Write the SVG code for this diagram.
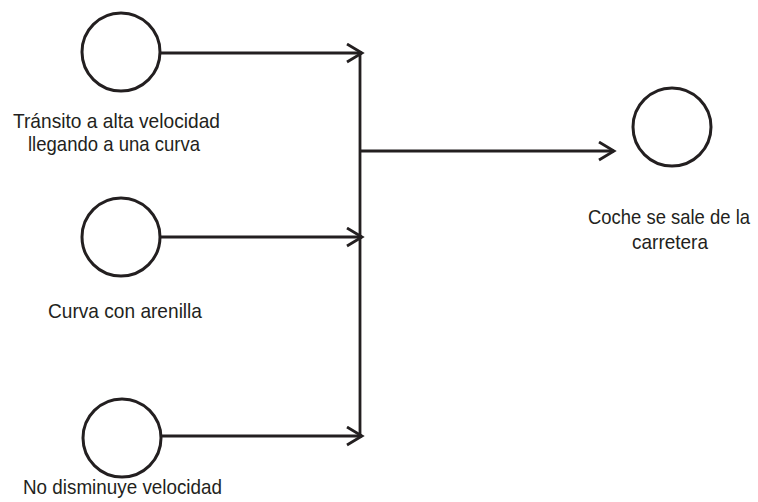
<svg xmlns="http://www.w3.org/2000/svg" width="758" height="502" viewBox="0 0 758 502">
<style>
.n{fill:none;stroke:#231f20;stroke-width:3}
.c{fill:none;stroke:#231f20;stroke-width:2.8}
.t{font-family:"Liberation Sans Narrow","Liberation Sans",Arial,sans-serif;font-size:21px;fill:#231f20;text-anchor:middle}
</style>
<defs>
<marker id="ah" markerWidth="20" markerHeight="22" refX="16" refY="10" orient="auto" markerUnits="userSpaceOnUse">
<path d="M1,1 L16,10 L1,19" fill="none" stroke="#231f20" stroke-width="2.8"/>
</marker>
</defs>
<rect width="758" height="502" fill="#ffffff"/>
<g id="n1">
<circle class="n" cx="121" cy="52" r="39"/>
<text class="t" x="116.5" y="128" textLength="207" lengthAdjust="spacingAndGlyphs">Tránsito a alta velocidad</text>
<text class="t" x="114" y="151" textLength="172" lengthAdjust="spacingAndGlyphs">llegando a una curva</text>
</g>
<g id="n2">
<circle class="n" cx="121" cy="237" r="39"/>
<text class="t" x="125" y="318" textLength="154" lengthAdjust="spacingAndGlyphs">Curva con arenilla</text>
</g>
<g id="n3">
<circle class="n" cx="122" cy="438" r="39"/>
<text class="t" x="122.5" y="494" textLength="199" lengthAdjust="spacingAndGlyphs">No disminuye velocidad</text>
</g>
<g id="n4">
<circle class="n" cx="672" cy="127" r="39"/>
<text class="t" x="669" y="224" textLength="162" lengthAdjust="spacingAndGlyphs">Coche se sale de la</text>
<text class="t" x="670" y="249" textLength="76" lengthAdjust="spacingAndGlyphs">carretera</text>
</g>
<g id="connectors">
<line class="c" x1="360" y1="52" x2="360" y2="437"/>
<line class="c" x1="160" y1="53" x2="362" y2="53" marker-end="url(#ah)"/>
<line class="c" x1="160" y1="237" x2="362" y2="237" marker-end="url(#ah)"/>
<line class="c" x1="161" y1="436" x2="362" y2="436" marker-end="url(#ah)"/>
<line class="c" x1="360" y1="151" x2="614" y2="151" marker-end="url(#ah)"/>
</g>
</svg>
